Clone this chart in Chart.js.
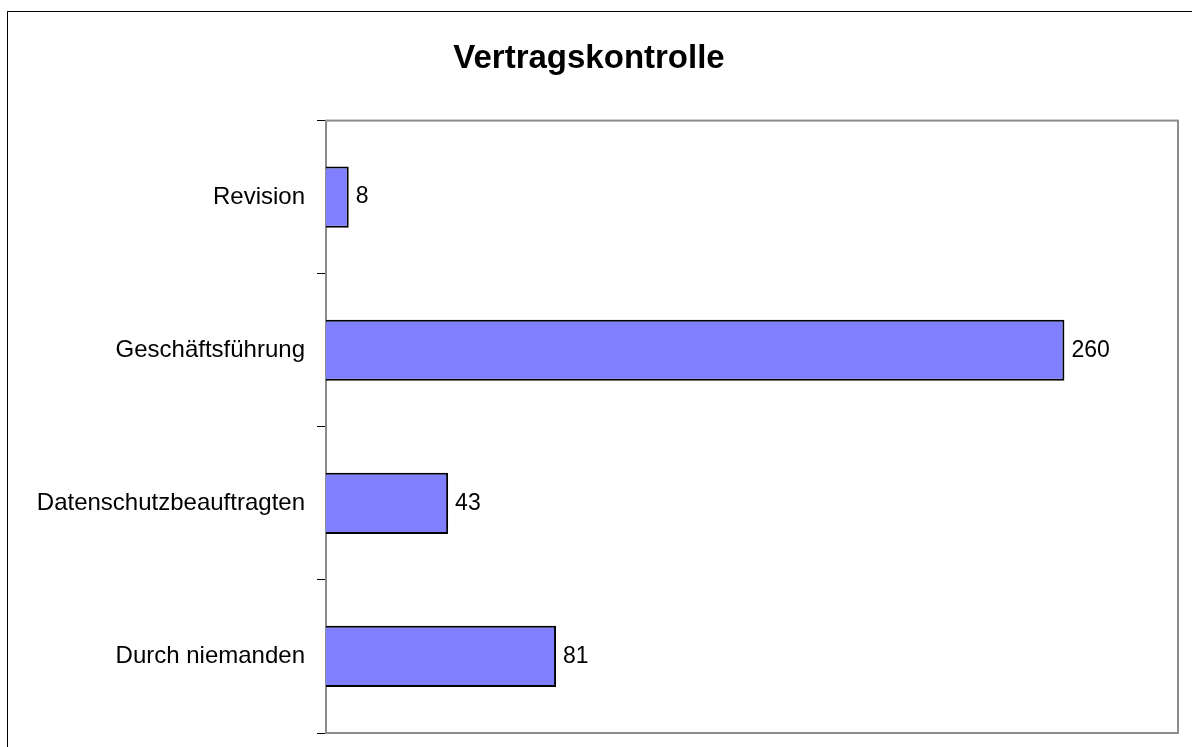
<!DOCTYPE html>
<html>
<head>
<meta charset="utf-8">
<script src="https://cdn.jsdelivr.net/npm/chart.js@4.4.0/dist/chart.umd.min.js"></script>
<style>
  html, body { margin: 0; padding: 0; background: #fff; overflow: hidden; }
  #frame { position: absolute; left: 7px; top: 11px; width: 1300px; height: 900px; border: 1px solid #000; }
  #chart { position: absolute; left: 0; top: 0; }
</style>
</head>
<body>
<div id="frame"></div>
<canvas id="chart" width="1192" height="747"></canvas>
<script>
const categories = ['Revision', 'Geschäftsführung', 'Datenschutzbeauftragten', 'Durch niemanden']
const values = [8, 260, 43, 81]
const titleText = 'Vertragskontrolle'

// Rahmen des Plotbereichs (oben/rechts/unten grau)
const plotFrame = {
    id: 'plotFrame',
    beforeDatasetsDraw(chart) {
        const { ctx, chartArea: a } = chart
        ctx.save()
        ctx.strokeStyle = '#8c8c8c'
        ctx.lineWidth = 2
        ctx.strokeRect(a.left, a.top, a.right - a.left, a.bottom - a.top)
        ctx.restore()
    }
}

// Werte rechts neben den Balken
const valueLabels = {
    id: 'valueLabels',
    afterDatasetsDraw(chart) {
        const { ctx } = chart
        const meta = chart.getDatasetMeta(0)
        ctx.save()
        ctx.font = '23px "Liberation Sans", Arial, sans-serif'
        ctx.fillStyle = '#000'
        ctx.textBaseline = 'middle'
        ctx.textAlign = 'left'
        meta.data.forEach((bar, i) => {
            ctx.fillText(String(values[i]), bar.x + 7, bar.y)
        })
        ctx.restore()
    }
}

new Chart(document.getElementById('chart'), {
    type: 'bar',
    data: {
        labels: categories,
        datasets: [{
            data: values,
            backgroundColor: '#8080ff',
            borderColor: '#000',
            borderWidth: 2,
            barPercentage: 0.4,
            categoryPercentage: 1
        }]
    },
    options: {
        indexAxis: 'y',
        responsive: false,
        animation: false,
        devicePixelRatio: 1,
        layout: { padding: { left: 0, right: 14, bottom: 14, top: 0 } },
        scales: {
            x: {
                display: false,
                min: 0,
                max: 300
            },
            y: {
                afterFit(scale) {
                    scale.width = 326
                    scale.paddingTop = 0
                    scale.paddingBottom = 0
                },
                grid: {
                    drawOnChartArea: false,
                    tickLength: 9,
                    color: '#000',
                    offset: true
                },
                border: { color: '#333', width: 2 },
                ticks: {
                    padding: 12,
                    color: '#000',
                    font: { family: '"Liberation Sans", Arial, sans-serif', size: 24 }
                }
            }
        },
        plugins: {
            legend: { display: false },
            tooltip: { enabled: false },
            title: {
                display: true,
                text: titleText,
                color: '#000',
                font: { family: '"Liberation Sans", Arial, sans-serif', size: 33, weight: 'bold' },
                padding: { top: 39, bottom: 42 }
            }
        }
    },
    plugins: [plotFrame, valueLabels]
})
</script>
</body>
</html>
